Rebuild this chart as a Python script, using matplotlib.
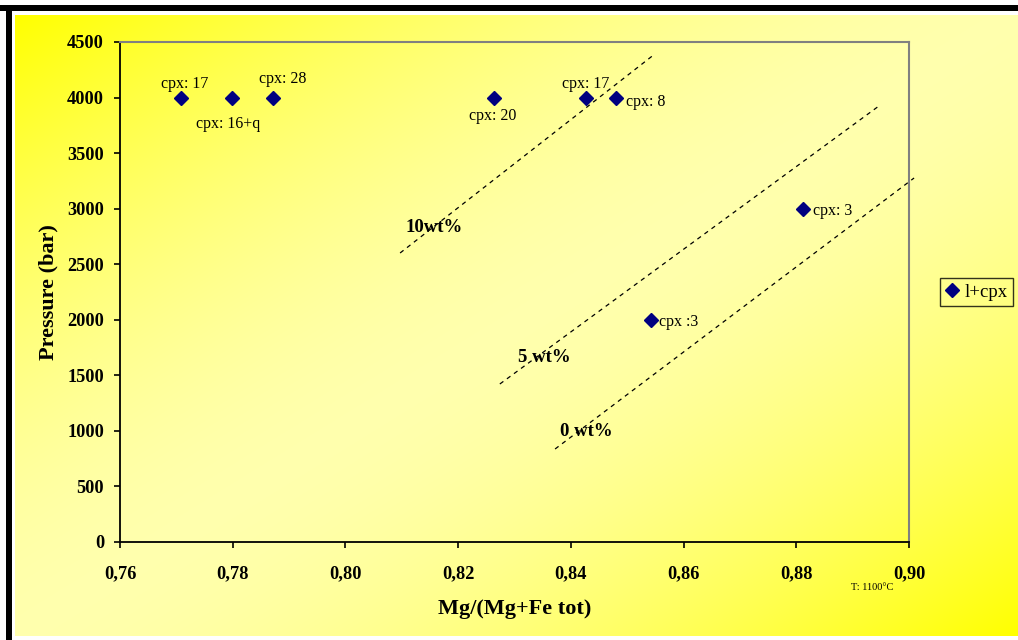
import numpy as np
import matplotlib
matplotlib.use("Agg")
import matplotlib.pyplot as plt
from matplotlib.lines import Line2D

plt.rcParams['font.family'] = ['Liberation Serif', 'DejaVu Serif']

# Experimental run products (l+cpx) at 1100 °C
mg_number = [0.7708, 0.7799, 0.7872, 0.8264, 0.8427, 0.8480, 0.8542, 0.8812]
pressure = [4000, 4000, 4000, 4000, 4000, 4000, 2000, 3000]
labels = ["cpx: 17", "cpx: 16+q", "cpx: 28", "cpx: 20", "cpx: 17", "cpx: 8", "cpx :3", "cpx: 3"]
label_offsets = [(4, 14), (-4, -26), (9, 19), (-2, -18), (0, 14), (10, -4), (8, -2), (10, -2)]
label_align = ["center", "center", "center", "center", "center", "left", "left", "left"]

# Water-content isopleths: (x0, x1), (y0, y1) and their labels
iso_names = ["10wt%", "5 wt%", "0 wt%"]
iso_x = [(0.8097, 0.8549), (0.8274, 0.8949), (0.8372, 0.9009)]
iso_y = [(2601, 4392), (1422, 3933), (837, 3276)]
iso_label_pos = [(0.8107, 2826), (0.8306, 1665), (0.8380, 990)]

xticks = [0.76, 0.78, 0.80, 0.82, 0.84, 0.86, 0.88, 0.90]
yticks = list(range(0, 4501, 500))

W, H = 1018, 640
fig = plt.figure(figsize=(W / 100, H / 100), dpi=100)

# Background: black frame, white gap and diagonal yellow gradient
bg = fig.add_axes([0, 0, 1, 1], zorder=-10)
bg.axis("off")
bg.add_patch(plt.Rectangle((0, 0), W, H, color="white", zorder=0))
gx0, gy0, gx1, gy1 = 15, 15, W, 636
u = np.linspace(0, 1, 400)[None, :]
v = np.linspace(0, 1, 250)[:, None]
t = (u + v) / 2.0
w = 1 - np.abs(2 * t - 1) ** 1.7  # 0 at top-left / bottom-right corners
light = np.array([1.0, 1.0, 0.68])
yellow = np.array([1.0, 1.0, 0.0])
img = yellow[None, None, :] * (1 - w[..., None]) + light[None, None, :] * w[..., None]
bg.imshow(img, extent=(gx0, gx1, gy1, gy0), aspect="auto", interpolation="bilinear",
          zorder=1)
bg.add_patch(plt.Rectangle((0, 5), W, 5.5, color="black", lw=0, zorder=2))
bg.add_patch(plt.Rectangle((6.5, 5), 5.5, H, color="black", lw=0, zorder=2))
bg.set_xlim(0, W)
bg.set_ylim(H, 0)

ax = fig.add_axes([120 / W, 1 - 542 / H, (909 - 120) / W, (542 - 42) / H])
ax.set_facecolor("none")
ax.set_xlim(0.76, 0.90)
ax.set_ylim(0, 4500)

for side in ["left", "bottom"]:
    ax.spines[side].set_color("black")
    ax.spines[side].set_linewidth(1.3)
for side in ["top", "right"]:
    ax.spines[side].set_color("#808080")
    ax.spines[side].set_linewidth(1.5)

ax.set_xticks(xticks)
ax.set_yticks(yticks)
ax.set_xticklabels([f"{x:.2f}".replace(".", ",") for x in xticks])
ax.set_yticklabels([str(y) for y in yticks])
ax.tick_params(axis="both", direction="out", length=4.5, width=1.2, colors="black",
               labelsize=13.2)
ax.tick_params(axis="x", pad=12)
ax.tick_params(axis="y", pad=7)
for lab in ax.get_xticklabels() + ax.get_yticklabels():
    lab.set_fontweight("bold")

ax.set_xlabel("Mg/(Mg+Fe tot)", fontsize=16, fontweight="bold", labelpad=12)
ax.set_ylabel("Pressure (bar)", fontsize=16, fontweight="bold", labelpad=6)

# Isopleths
for (xs, ys, name, pos) in zip(iso_x, iso_y, iso_names, iso_label_pos):
    ax.plot(xs, ys, color="black", lw=0.9, ls=(0, (3.5, 3.5)), clip_on=False, zorder=2)
    ax.text(pos[0], pos[1], name, fontsize=13.5, fontweight="bold", ha="left",
            va="center", zorder=3)

ax.plot(mg_number, pressure, ls="none", marker="D", ms=7, color="#000080",
        markeredgecolor="#000080", zorder=4, clip_on=False)

for x, y, lab, off, ha in zip(mg_number, pressure, labels, label_offsets, label_align):
    ax.annotate(lab, (x, y), xytext=off, textcoords="offset pixels", ha=ha,
                va="center", fontsize=11.5, zorder=5)

handle = Line2D([], [], ls="none", marker="D", ms=7, color="#000080")
leg = fig.legend([handle], ["l+cpx"], loc="center left",
                 bbox_to_anchor=(940 / W, 1 - 292 / H), frameon=True, fancybox=False,
                 fontsize=13.5, handlelength=0.7, handletextpad=0.3, borderpad=0.3,
                 borderaxespad=0)
leg.get_frame().set_edgecolor("black")
leg.get_frame().set_facecolor("none")
leg.get_frame().set_linewidth(1.0)

fig.text(851 / W, 1 - 587 / H, "T: 1100°C", fontsize=7.5, ha="left", va="center")

fig.savefig("out.png", dpi=100)
